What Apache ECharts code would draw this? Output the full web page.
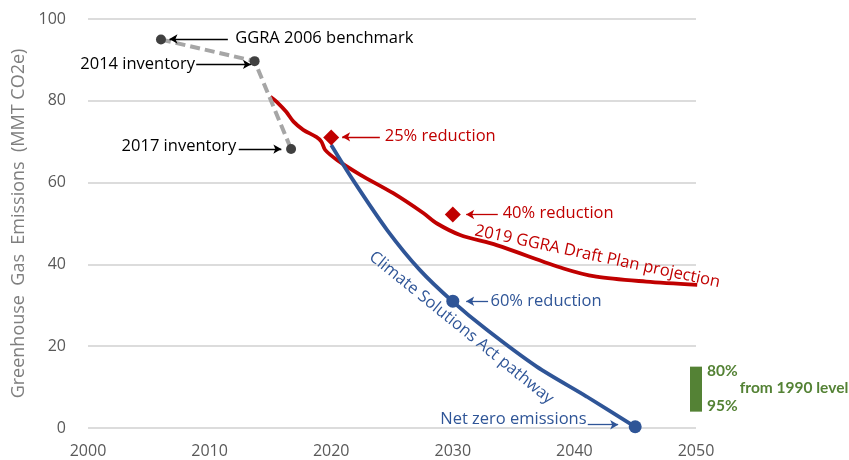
<!DOCTYPE html>
<html>
<head>
<meta charset="utf-8">
<script src="https://cdn.jsdelivr.net/npm/echarts@6/dist/echarts.min.js"></script>
<style>
  html, body { margin: 0; padding: 0; background: #fff; }
  #chart { width: 849px; height: 460px; }
</style>
</head>
<body>
<div id="chart"></div>
<script>
// inventory (gray dashed)
const invYears = [2006, 2013.7, 2016.7]
const invValues = [95, 89.7, 68.2]

// 2019 GGRA Draft Plan projection (red)
const planYears = [2015.0, 2015.5, 2016.3, 2016.9, 2017.7, 2018.8, 2019.2, 2019.5, 2020.5, 2022.4, 2025.1, 2027.6, 2028.7, 2030.6, 2033.6, 2039.1, 2041.8, 2045.9, 2050.1]
const planValues = [81.0, 79.8, 77.3, 74.9, 72.9, 71.1, 70.0, 68.0, 65.5, 61.9, 57.4, 52.5, 50.0, 47.2, 44.7, 39.0, 37.0, 35.8, 35.0]

// Climate Solutions Act pathway (blue)
const pathYears = [2020.0, 2021.8, 2024.6, 2027.3, 2030.0, 2032.8, 2036.9, 2041.0, 2045.0]
const pathValues = [69.2, 60.6, 48.4, 38.6, 30.9, 24.0, 15.0, 7.7, 0.3]

// targets
const goalYears = [2020, 2030]
const goalValues = [71, 52.2]
const pathPointYears = [2030, 2045]
const pathPointValues = [31, 0.3]

// 80%-95% band in 2050
const bandYear = 2050
const bandLow = 4
const bandHigh = 15

const xTicks = [2000, 2010, 2020, 2030, 2040, 2050]
const yTicks = [0, 20, 40, 60, 80, 100]

const RED = '#c00000'
const BLUE = '#2f5597'
const GREEN = '#548235'
const FONT = '"Open Sans", sans-serif'

const zip = (xs, ys) => xs.map((x, i) => [x, ys[i]])
const arrow = (from, to, color) => [
  { coord: from, lineStyle: { color: color, width: 1.3, type: 'solid' } },
  { coord: to }
]

const chart = echarts.init(document.getElementById('chart'))
chart.setOption({
  animation: false,
  grid: { left: 88, right: 153, top: 19, bottom: 32 },
  xAxis: {
    type: 'value',
    min: xTicks[0],
    max: xTicks[xTicks.length - 1],
    interval: 10,
    axisLine: { show: false },
    axisTick: { show: false },
    splitLine: { show: false },
    axisLabel: {
      color: '#595959',
      fontSize: 16,
      fontFamily: FONT,
      margin: 15,
      formatter: (v) => String(v)
    }
  },
  yAxis: {
    type: 'value',
    min: yTicks[0],
    max: yTicks[yTicks.length - 1],
    interval: 20,
    name: 'Greenhouse  Gas  Emissions  (MMT CO2e)',
    nameLocation: 'middle',
    nameGap: 60,
    nameTextStyle: { color: '#7f7f7f', fontSize: 18, fontFamily: FONT },
    axisLine: { show: false },
    axisTick: { show: false },
    splitLine: { lineStyle: { color: '#d0d0d0', width: 1.5 } },
    axisLabel: { color: '#595959', fontSize: 16, fontFamily: FONT, margin: 22 }
  },
  series: [
    {
      name: 'band',
      type: 'custom',
      silent: true,
      data: [[bandYear, bandLow, bandHigh]],
      renderItem: (params, api) => {
        const lo = api.coord([api.value(0), api.value(1)])
        const hi = api.coord([api.value(0), api.value(2)])
        return {
          type: 'rect',
          shape: { x: lo[0] - 6, y: hi[1], width: 12, height: lo[1] - hi[1] },
          style: { fill: GREEN }
        }
      }
    },
    {
      name: 'inventory',
      type: 'line',
      data: zip(invYears, invValues),
      symbol: 'circle',
      symbolSize: 10,
      itemStyle: { color: '#404040' },
      lineStyle: { color: '#a6a6a6', width: 4, type: [10, 5] },
      z: 3,
      markLine: {
        silent: true,
        symbol: ['none', 'arrow'],
        symbolSize: [7, 8],
        label: { show: false },
        data: [
          arrow([2011.5, 95.1], [2006.7, 95.1], '#000'),
          arrow([2008.9, 88.9], [2013.4, 88.9], '#000'),
          arrow([2012.4, 68.2], [2015.9, 68.2], '#000')
        ]
      }
    },
    {
      name: 'plan',
      type: 'line',
      data: zip(planYears, planValues),
      smooth: 0.3,
      showSymbol: false,
      lineStyle: { color: RED, width: 3.8 },
      z: 2
    },
    {
      name: 'pathway',
      type: 'line',
      data: zip(pathYears, pathValues),
      smooth: 0.3,
      showSymbol: false,
      lineStyle: { color: BLUE, width: 3.8 },
      z: 2
    },
    {
      name: 'goals',
      type: 'scatter',
      data: zip(goalYears, goalValues),
      symbol: 'diamond',
      symbolSize: 16,
      itemStyle: { color: RED, opacity: 1 },
      z: 4,
      markLine: {
        silent: true,
        symbol: ['none', 'arrow'],
        symbolSize: [7, 8],
        label: { show: false },
        data: [
          arrow([2024.0, 71.2], [2020.9, 71.2], RED),
          arrow([2033.7, 52.2], [2031.1, 52.2], RED)
        ]
      }
    },
    {
      name: 'path points',
      type: 'scatter',
      data: zip(pathPointYears, pathPointValues),
      symbol: 'circle',
      symbolSize: 13,
      itemStyle: { color: BLUE, opacity: 1 },
      z: 4,
      markLine: {
        silent: true,
        symbol: ['none', 'arrow'],
        symbolSize: [7, 8],
        label: { show: false },
        data: [
          arrow([2032.9, 31.0], [2031.1, 31.0], BLUE),
          arrow([2041.1, 0.8], [2043.6, 0.8], BLUE)
        ]
      }
    }
  ]
})

// text notes, placed in data coordinates
const notes = [
  { text: 'GGRA 2006 benchmark', at: [2012.1, 95.2], align: 'left', color: '#000' },
  { text: '2014 inventory', at: [2008.8, 89.0], align: 'right', color: '#000' },
  { text: '2017 inventory', at: [2012.2, 68.8], align: 'right', color: '#000' },
  { text: '25% reduction', at: [2024.4, 71.3], align: 'left', color: RED },
  { text: '40% reduction', at: [2034.1, 52.4], align: 'left', color: RED },
  { text: '60% reduction', at: [2033.1, 31.0], align: 'left', color: BLUE },
  { text: 'Net zero emissions', at: [2041.0, 2.1], align: 'right', color: BLUE },
  { text: '2019 GGRA Draft Plan projection', at: [2041.9, 41.9], align: 'center', color: RED, rot: -12 },
  { text: 'Climate Solutions Act pathway', at: [2030.7, 24.5], align: 'center', color: BLUE, rot: -39 },
  { text: '80%', at: [2050.9, 14.0], align: 'left', color: GREEN, bold: true, size: 15.5, font: 'Lato, sans-serif' },
  { text: 'from 1990 level', at: [2053.6, 9.7], align: 'left', color: GREEN, bold: true, size: 15.5, font: 'Lato, sans-serif' },
  { text: '95%', at: [2050.9, 5.5], align: 'left', color: GREEN, bold: true, size: 15.5, font: 'Lato, sans-serif' }
]

chart.setOption({
  graphic: notes.map((n) => {
    const p = chart.convertToPixel({ gridIndex: 0 }, n.at)
    return {
      type: 'text',
      x: p[0],
      y: p[1],
      rotation: ((n.rot || 0) * Math.PI) / 180,
      silent: true,
      z: 10,
      style: {
        text: n.text,
        align: n.align,
        verticalAlign: 'middle',
        fill: n.color,
        fontSize: n.size || 16.5,
        fontWeight: n.bold ? 'bold' : 'normal',
        fontFamily: n.font || FONT
      }
    }
  })
})
</script>
</body>
</html>
